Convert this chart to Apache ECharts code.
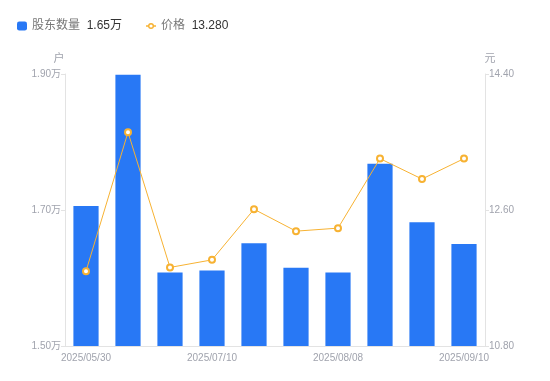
<!DOCTYPE html>
<html><head><meta charset="utf-8">
<script src="https://cdn.jsdelivr.net/npm/echarts@6/dist/echarts.min.js"></script>
<style>html,body{margin:0;padding:0;background:#fff}#c{width:550px;height:381px}</style>
</head><body><div id="c"></div>
<script>
const categories = ['2025/05/30','2025/06/10','2025/06/20','2025/07/10','2025/07/20','2025/07/31','2025/08/08','2025/08/20','2025/08/29','2025/09/10'];
const holders = [1.706, 1.899, 1.608, 1.611, 1.651, 1.615, 1.608, 1.768, 1.682, 1.65];
const prices = [11.79, 13.63, 11.84, 11.94, 12.61, 12.32, 12.36, 13.28, 13.01, 13.28];
const leftTicks = [1.5, 1.9, 0.2];
const rightTicks = [10.8, 14.4, 1.8];
const legendValues = {'股东数量': '1.65万', '价格': '13.280'};

const chart = echarts.init(document.getElementById('c'));
const labelColor = '#a0a3ad';
const lineColor = '#e3e3e3';
const orange = '#f7b232';
const lineIcon = 'path://M0,3.8H2.2V5.2H0Z M7.8,3.8H10V5.2H7.8Z M2,4.5A3,3 0 1,1 8,4.5A3,3 0 1,1 2,4.5Z M3.4,4.5A1.6,1.6 0 1,0 6.6,4.5A1.6,1.6 0 1,0 3.4,4.5Z';
chart.setOption({
  animation: false,
  textStyle: {fontFamily: 'Liberation Sans, "Noto Sans CJK SC", sans-serif'},
  legend: {
    left: 12, top: 15, itemGap: 24, itemWidth: 10, itemHeight: 9,
    data: [
      {name: '股东数量', icon: 'roundRect'},
      {name: '价格', icon: lineIcon, itemStyle: {color: orange, borderWidth: 0}}
    ],
    formatter: n => '{n|' + n + '}  {v|' + legendValues[n] + '}',
    textStyle: {rich: {n: {color: '#777', fontSize: 12}, v: {color: '#333', fontSize: 12}}}
  },
  grid: {left: 65, right: 65, top: 74, bottom: 35},
  xAxis: {
    type: 'category', data: categories,
    axisLine: {lineStyle: {color: lineColor}},
    axisTick: {show: false},
    axisLabel: {interval: 2, color: labelColor, fontSize: 10, margin: 7}
  },
  yAxis: [{
    type: 'value', min: leftTicks[0], max: leftTicks[1], interval: leftTicks[2],
    name: '户', nameGap: 10, nameTextStyle: {color: labelColor, fontSize: 11, padding: [0, 12, 0, 0]},
    axisLine: {show: true, lineStyle: {color: lineColor}},
    axisTick: {show: true, length: 4, lineStyle: {color: lineColor}},
    splitLine: {show: false},
    axisLabel: {color: labelColor, fontSize: 10, margin: 4, formatter: v => v.toFixed(2) + '万'}
  }, {
    type: 'value', min: rightTicks[0], max: rightTicks[1], interval: rightTicks[2],
    name: '元', nameGap: 10, nameTextStyle: {color: labelColor, fontSize: 11, padding: [0, 0, 0, 10]},
    axisLine: {show: true, lineStyle: {color: lineColor}},
    axisTick: {show: true, length: 4, lineStyle: {color: lineColor}},
    splitLine: {show: false},
    axisLabel: {color: labelColor, fontSize: 10, margin: 4, formatter: v => v.toFixed(2)}
  }],
  series: [{
    name: '股东数量', type: 'bar', data: holders, barWidth: '60%',
    itemStyle: {color: '#2878f5'}
  }, {
    name: '价格', type: 'line', yAxisIndex: 1, data: prices,
    symbol: 'circle', symbolSize: 6, showAllSymbol: true,
    lineStyle: {color: orange, width: 1},
    itemStyle: {color: '#fff', borderColor: orange, borderWidth: 2}
  }]
});
</script></body></html>
